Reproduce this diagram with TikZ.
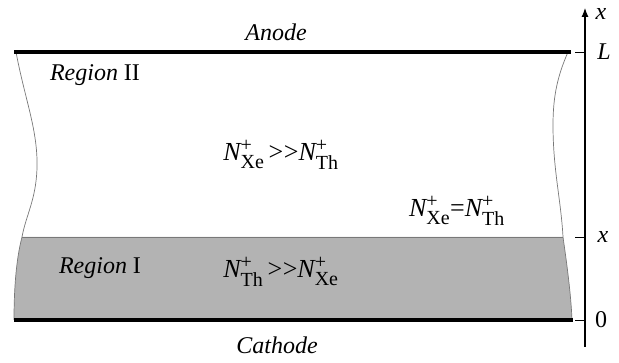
\documentclass[tikz,border=0pt]{standalone}
\usepackage{fontspec}
\usepackage{amsmath}
\setmainfont{Liberation Serif}
\usetikzlibrary{arrows.meta}
\DeclareMathSizes{26}{26}{20}{15}
\definecolor{Ion-gray}{RGB}{179,179,179}
\definecolor{Wall-gray}{RGB}{120,120,120}
\tikzset{
  plate/.style={line width=3.6pt},
  wall/.style={draw=Wall-gray, line width=0.7pt},
  axisline/.style={-{Latex[length=9pt,width=7pt]}, line width=1.1pt},
  tickmark/.style={line width=0.8pt},
  lab/.style={font=\fontsize{24}{28}\selectfont, inner sep=0pt},
  dens/.style={font=\fontsize{26}{30}\selectfont, inner sep=0pt}
}
\newcommand{\Nion}[1]{\textit{N}^{\text{+}}_{\text{#1}}}
\newcommand{\muchgt}{\text{>\kern0.5pt>}}

\begin{document}
\begin{tikzpicture}[x=1pt,y=-1pt]
\useasboundingbox (0,0) rectangle (619,363);
% gas gap, region I shaded
\fill[Ion-gray] (22,237) -- (563,237) .. controls (567,265) and (571,295) .. (572,320)
  -- (14,320) .. controls (14,290) and (16,260) .. (22,237) -- cycle;
\draw[wall] (22,237) -- (563,237);
\draw[wall] (16,52) .. controls (25,100) and (38,130) .. (37,168)
  .. controls (36,200) and (26,215) .. (22,237)
  .. controls (16,260) and (14,290) .. (14,320);
\draw[wall] (568,52) .. controls (558,75) and (553,95) .. (553,125)
  .. controls (553,170) and (561,200) .. (563,237)
  .. controls (567,265) and (571,295) .. (572,320);
% electrodes
\coordinate (anodeL) at (14,52);
\coordinate (anodeR) at (571,52);
\coordinate (cathL) at (14,320);
\coordinate (cathR) at (573,320);
\draw[plate] (anodeL) -- (anodeR);
\draw[plate] (cathL) -- (cathR);
\node[lab] (anode) at (276,32) {\textit{Anode}};
\node[lab] (cathode) at (277,345) {\textit{Cathode}};
% regions
\node[lab] (reg2) at (95,75) {\textit{Region} II};
\node[lab] (reg1) at (100,268) {\textit{Region} I};
\node[dens] (dens2) at (281,155) {$\Nion{Xe}\,\muchgt\Nion{Th}$};
\node[dens] (equal) at (457,211) {$\Nion{Xe}\text{=}\Nion{Th}$};
\node[dens] (dens1) at (281,272) {$\Nion{Th}\,\muchgt\Nion{Xe}$};
% axis
\coordinate (axbot) at (585,347);
\coordinate (axtop) at (585,8);
\draw[axisline] (axbot) -- (axtop);
\foreach \yy/\nm in {52/L, 237/x, 320/0} {
  \draw[tickmark] (575,\yy) -- (585,\yy);
}
\node[lab] (axname) at (601,14) {\textit{x}};
\node[lab] (tickL) at (604,52) {\textit{L}};
\node[lab] (tickx) at (603,237) {\textit{x}};
\node[lab] (tick0) at (601,320) {0};
\end{tikzpicture}
\end{document}
